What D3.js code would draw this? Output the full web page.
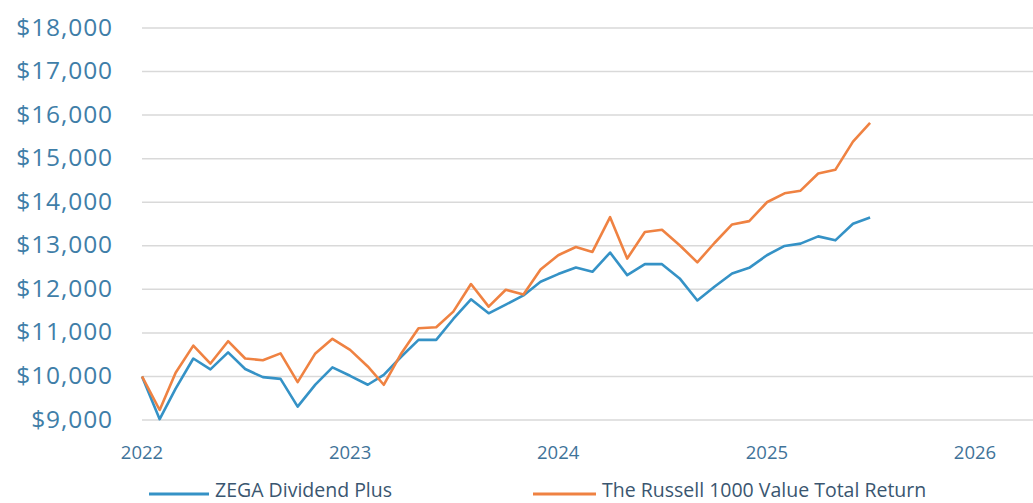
<!DOCTYPE html>
<html>
<head>
<meta charset="utf-8">
<script src="https://cdn.jsdelivr.net/npm/d3@7"></script>
<style>
  html, body { margin: 0; padding: 0; background: #fff; }
  svg { display: block; }
</style>
</head>
<body>
<svg id="chart" width="1033" height="503"></svg>
<script>
const seriesNames = ["ZEGA Dividend Plus", "The Russell 1000 Value Total Return"];
const seriesColors = ["#3592c6", "#ef8242"];
const zegaValues = [10000, 9020, 9720, 10412, 10163, 10552, 10170, 9984, 9945, 9307, 9813, 10208,
  10015, 9809, 10038, 10458, 10840, 10840, 11320, 11771, 11450, 11650, 11860, 12175,
  12350, 12500, 12403, 12844, 12327, 12578, 12578, 12251, 11745, 12061, 12365, 12494,
  12783, 12996, 13049, 13216, 13125, 13505, 13649];
const russellValues = [10000, 9230, 10085, 10708, 10296, 10809, 10412, 10373, 10529, 9868, 10529, 10864,
  10611, 10229, 9809, 10534, 11107, 11130, 11489, 12122, 11603, 11990, 11880, 12456,
  12783, 12973, 12859, 13657, 12707, 13315, 13368, 13011, 12620, 13064, 13490, 13566,
  13999, 14204, 14265, 14660, 14744, 15390, 15823];
const yTicks = [9000, 10000, 11000, 12000, 13000, 14000, 15000, 16000, 17000, 18000];
const xTickYears = [2022, 2023, 2024, 2025, 2026];
const startYear = 2022;

const svg = d3.select("#chart");
const W = 1033, H = 503;

const dates = zegaValues.map((_, i) => new Date(startYear, i, 1));

const x = d3.scaleTime()
  .domain([new Date(2022, 0, 1), new Date(2026, 0, 1)])
  .range([142, 975]);
const y = d3.scaleLinear().domain([9000, 18000]).range([420, 28]);

// gridlines
svg.append("g").selectAll("line").data(yTicks).join("line")
  .attr("x1", x(new Date(2022, 0, 1)))
  .attr("x2", W)
  .attr("y1", d => y(d)).attr("y2", d => y(d))
  .attr("stroke", "#d9d9d9").attr("stroke-width", 1.5);

// y labels
const fmt = d3.format("$,");
svg.append("g").selectAll("text").data(yTicks).join("text")
  .attr("x", 113).attr("y", d => y(d) - 1)
  .attr("dy", "0.35em")
  .attr("text-anchor", "end")
  .attr("font-family", "'Open Sans', sans-serif")
  .attr("font-size", 24.5)
  .attr("letter-spacing", 0.9)
  .attr("fill", "#3f7ea8")
  .text(d => fmt(d));

// x labels
svg.append("g").selectAll("text").data(xTickYears).join("text")
  .attr("x", d => x(new Date(d, 0, 1)))
  .attr("y", 453)
  .attr("dy", "0.35em")
  .attr("text-anchor", "middle")
  .attr("font-family", "'Open Sans', sans-serif")
  .attr("font-size", 18.5)
  .attr("fill", "#3f7399")
  .text(d => d);

// lines
const line = d3.line().x((d, i) => x(dates[i])).y(d => y(d));
const allSeries = [zegaValues, russellValues];
svg.append("g").selectAll("path").data(allSeries).join("path")
  .attr("d", d => line(d))
  .attr("fill", "none")
  .attr("stroke", (d, i) => seriesColors[i])
  .attr("stroke-width", 2.6)
  .attr("stroke-linejoin", "round");

// legend
const legendPos = [{lx: 149, tx: 215}, {lx: 533, tx: 602}];
const lg = svg.append("g");
seriesNames.forEach((name, i) => {
  lg.append("line")
    .attr("x1", legendPos[i].lx).attr("x2", legendPos[i].tx - 6)
    .attr("y1", 494).attr("y2", 494)
    .attr("stroke", seriesColors[i]).attr("stroke-width", 3);
  lg.append("text")
    .attr("x", legendPos[i].tx).attr("y", 490)
    .attr("dy", "0.35em")
    .attr("font-family", "'Open Sans', sans-serif")
    .attr("font-size", 19.5)
    .attr("fill", "#3a5670")
    .text(name);
});
</script>
</body>
</html>
